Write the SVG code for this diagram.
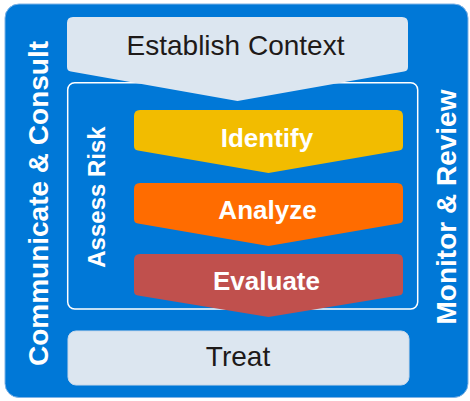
<svg xmlns="http://www.w3.org/2000/svg" width="470" height="401" viewBox="0 0 470 401">
<style>
text{font-family:"Liberation Sans",Arial,sans-serif;text-anchor:middle}
.dark{fill:#1e1a19;font-size:28px}
.wb{fill:#ffffff;font-weight:bold;font-size:26px}
.side{fill:#ffffff;font-weight:bold;font-size:28px}
.pale{fill:#dce6f0}
</style>
<g id="background">
<rect x="5" y="4" width="463" height="393.5" rx="14" fill="#0078d7" stroke="#7fb3e6" stroke-width="1"/>
</g>
<g id="communicate-consult">
<text class="side" transform="translate(47.5,203.5) rotate(-90)">Communicate &amp; Consult</text>
</g>
<g id="monitor-review">
<text class="side" transform="translate(455.5,207) rotate(-90)">Monitor &amp; Review</text>
</g>
<g id="assess-risk">
<rect x="67.7" y="82.7" width="350" height="226.3" rx="7" fill="none" stroke="#ffffff" stroke-width="1.5"/>
<text class="side" style="font-size:24px" transform="translate(105,197) rotate(-90)">Assess Risk</text>
</g>
<g id="establish-context">
<path class="pale" d="M67,23 Q67,17 73,17 H402 Q408,17 408,23 V67 Q408,71 404,71.6 L237.5,101 L71,71.6 Q67,71 67,67 Z"/>
<text class="dark" x="235.5" y="55">Establish Context</text>
</g>
<g id="identify">
<path fill="#f2bc00" d="M134,116 Q134,110 140,110 H397 Q403,110 403,116 V146 Q403,150 399,150.6 L268.5,173 L138,150.6 Q134,150 134,146 Z"/>
<text class="wb" x="267" y="146.5">Identify</text>
</g>
<g id="analyze">
<path fill="#ff6c00" d="M134,189 Q134,183 140,183 H397 Q403,183 403,189 V219 Q403,223 399,223.6 L268.5,246 L138,223.6 Q134,223 134,219 Z"/>
<text class="wb" x="267.5" y="219">Analyze</text>
</g>
<g id="evaluate">
<path fill="#c0504d" d="M134,260 Q134,254 140,254 H397 Q403,254 403,260 V291 Q403,295 399,295.6 L268.5,317 L138,295.6 Q134,295 134,291 Z"/>
<text class="wb" x="266.5" y="290">Evaluate</text>
</g>
<g id="treat">
<rect class="pale" x="68" y="331" width="341" height="54" rx="8" stroke="#c8d8ea" stroke-width="1"/>
<text class="dark" x="238" y="365.5">Treat</text>
</g>
<g id="connectors"></g>
</svg>
